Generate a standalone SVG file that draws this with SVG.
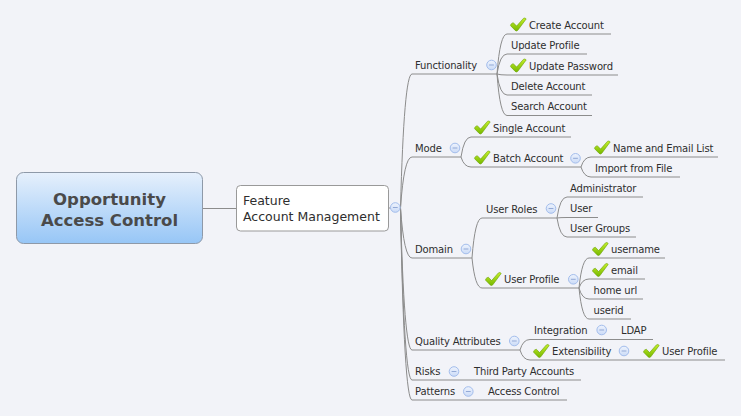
<svg xmlns="http://www.w3.org/2000/svg" xmlns:xlink="http://www.w3.org/1999/xlink" width="741" height="416" viewBox="0 0 741 416">
<style>
.t{font-family:"DejaVu Sans","Liberation Sans",sans-serif;font-size:10px;fill:#2e2e2e;letter-spacing:-0.15px}
.ft{font-family:"DejaVu Sans","Liberation Sans",sans-serif;font-size:12.5px;fill:#2e2e2e}
.rt{font-family:"DejaVu Sans","Liberation Sans",sans-serif;font-size:16.5px;font-weight:bold;fill:#4a4a4a;text-anchor:middle}
.ln{fill:none;stroke:#8c8c8c;stroke-width:1}
</style>
<defs>
<linearGradient id="rg" x1="0" y1="0" x2="0" y2="1">
<stop offset="0" stop-color="#e6f0fc"/>
<stop offset="1" stop-color="#97c6f6"/>
</linearGradient>
<linearGradient id="cg" x1="0" y1="0" x2="0" y2="1">
<stop offset="0" stop-color="#c6f02a"/>
<stop offset="1" stop-color="#76b800"/>
</linearGradient>
<linearGradient id="og" x1="0" y1="0" x2="0" y2="1">
<stop offset="0" stop-color="#eef3fd"/>
<stop offset="1" stop-color="#cbdbf7"/>
</linearGradient>
<g id="chk"><path d="M0.6,8.2 Q0.4,6.6 1.8,5.9 L3.3,5.2 L6.6,8.6 L13.4,0.9 Q15,-0.2 16.2,1.4 L7.8,12.8 Q6.4,14.2 5.2,12.9 Z" fill="url(#cg)" stroke="#6a9f05" stroke-width="0.6" stroke-linejoin="round"/></g>
<g id="col"><circle r="4.8" fill="url(#og)" stroke="#a3bdec" stroke-width="1"/><line x1="-2.4" y1="0" x2="2.4" y2="0" stroke="#93a9d6" stroke-width="1"/></g>
</defs>
<rect width="741" height="416" fill="#f2f3f8"/>

<g id="connectors">
<line class="ln" x1="203" y1="208.5" x2="236.5" y2="208.5"/>
<line class="ln" x1="388.5" y1="208" x2="400.5" y2="208"/>
<path class="ln" d="M400.5 208 Q404 74 412 74 H497"/>
<path class="ln" d="M400.5 208 Q404 157 412 157 H461"/>
<path class="ln" d="M400.5 208 Q404 258 412 258 H472"/>
<path class="ln" d="M400.5 208 Q404 350 412 350 H520"/>
<path class="ln" d="M400.5 208 Q404 380 412 380 H581"/>
<path class="ln" d="M400.5 208 Q404 400 412 400 H567"/>
<path class="ln" d="M497 74 Q500 34 507 34 H611"/>
<path class="ln" d="M497 74 Q500 54 507 54 H587"/>
<path class="ln" d="M497 74 Q500 75 507 75 H618"/>
<path class="ln" d="M497 74 Q500 95 507 95 H592"/>
<path class="ln" d="M497 74 Q500 115.5 507 115.5 H592"/>
<path class="ln" d="M461 157 Q464 137 471 137 H571"/>
<path class="ln" d="M461 157 Q464 167 471 167 H581"/>
<path class="ln" d="M581 167 Q584 157 591 157 H718"/>
<path class="ln" d="M581 167 Q584 177 591 177 H680"/>
<path class="ln" d="M472 258 Q475 218 482 218 H557"/>
<path class="ln" d="M472 258 Q475 288 482 288 H579"/>
<path class="ln" d="M557 218 Q560 197 567 197 H643"/>
<path class="ln" d="M557 218 Q560 217.5 567 217.5 H598"/>
<path class="ln" d="M557 218 Q560 237 567 237 H636"/>
<path class="ln" d="M579 288 Q582 258 589 258 H665"/>
<path class="ln" d="M579 288 Q582 279 589 279 H645"/>
<path class="ln" d="M579 288 Q582 299 589 299 H643"/>
<path class="ln" d="M579 288 Q582 319 589 319 H631"/>
<path class="ln" d="M520 350 Q523 339.5 530 339.5 H653"/>
<path class="ln" d="M520 350 Q523 360 530 360 H725"/>
</g>

<g id="root">
<rect x="16.5" y="172.5" width="186" height="71" rx="7" fill="url(#rg)" stroke="#8e99a8" stroke-width="1"/>
<text class="rt" x="109.5" y="205">Opportunity</text>
<text class="rt" x="109.5" y="226">Access Control</text>
</g>
<g id="feature">
<rect x="236.5" y="185.5" width="152" height="45.5" rx="4" fill="#fff" stroke="#999" stroke-width="1"/>
<text class="ft" x="243" y="205">Feature</text>
<text class="ft" x="243" y="221">Account Management</text>
<use href="#col" x="395.3" y="207.5"/>
</g>

<g id="functionality"><text class="t" x="415" y="68.5">Functionality</text><use href="#col" x="491.5" y="65"/></g>
<g id="create-account"><use href="#chk" x="510" y="17.5"/><text class="t" x="529" y="28.5">Create Account</text></g>
<g id="update-profile"><text class="t" x="511" y="48.5">Update Profile</text></g>
<g id="update-password"><use href="#chk" x="510" y="58.5"/><text class="t" x="529" y="69.5">Update Password</text></g>
<g id="delete-account"><text class="t" x="511" y="89.5">Delete Account</text></g>
<g id="search-account"><text class="t" x="511" y="110">Search Account</text></g>

<g id="mode"><text class="t" x="415" y="151.5">Mode</text><use href="#col" x="455" y="148"/></g>
<g id="single-account"><use href="#chk" x="474" y="120.5"/><text class="t" x="493" y="131.5">Single Account</text></g>
<g id="batch-account"><use href="#chk" x="474" y="150.5"/><text class="t" x="493" y="161.5">Batch Account</text><use href="#col" x="575.5" y="158.3"/></g>
<g id="name-email-list"><use href="#chk" x="594" y="140.5"/><text class="t" x="613" y="151.5">Name and Email List</text></g>
<g id="import-from-file"><text class="t" x="595" y="171.5">Import from File</text></g>

<g id="domain"><text class="t" x="415" y="252.5">Domain</text><use href="#col" x="466" y="249"/></g>
<g id="user-roles"><text class="t" x="486" y="212.5">User Roles</text><use href="#col" x="551" y="208.5"/></g>
<g id="administrator"><text class="t" x="570" y="191.5">Administrator</text></g>
<g id="user"><text class="t" x="570" y="212">User</text></g>
<g id="user-groups"><text class="t" x="570" y="231.5">User Groups</text></g>
<g id="user-profile"><use href="#chk" x="485" y="272"/><text class="t" x="504" y="282.5">User Profile</text><use href="#col" x="573.3" y="279.3"/></g>
<g id="username"><use href="#chk" x="592" y="242"/><text class="t" x="611" y="252.5">username</text></g>
<g id="email"><use href="#chk" x="592" y="263"/><text class="t" x="611" y="273.5">email</text></g>
<g id="home-url"><text class="t" x="593.5" y="293.5">home url</text></g>
<g id="userid"><text class="t" x="593.5" y="313.5">userid</text></g>

<g id="quality-attributes"><text class="t" x="415" y="344.5">Quality Attributes</text><use href="#col" x="514.3" y="341"/></g>
<g id="integration"><text class="t" x="534" y="334">Integration</text><use href="#col" x="601.7" y="330"/></g>
<g id="ldap"><text class="t" x="621" y="334">LDAP</text></g>
<g id="extensibility"><use href="#chk" x="533" y="344"/><text class="t" x="552" y="354.5">Extensibility</text><use href="#col" x="624" y="351"/></g>
<g id="qa-user-profile"><use href="#chk" x="643" y="344"/><text class="t" x="662" y="354.5">User Profile</text></g>

<g id="risks"><text class="t" x="415" y="374.5">Risks</text><use href="#col" x="454" y="371.5"/></g>
<g id="third-party-accounts"><text class="t" x="474" y="374.5">Third Party Accounts</text></g>
<g id="patterns"><text class="t" x="415" y="394.5">Patterns</text><use href="#col" x="468.3" y="391.5"/></g>
<g id="access-control"><text class="t" x="488" y="394.5">Access Control</text></g>
</svg>
